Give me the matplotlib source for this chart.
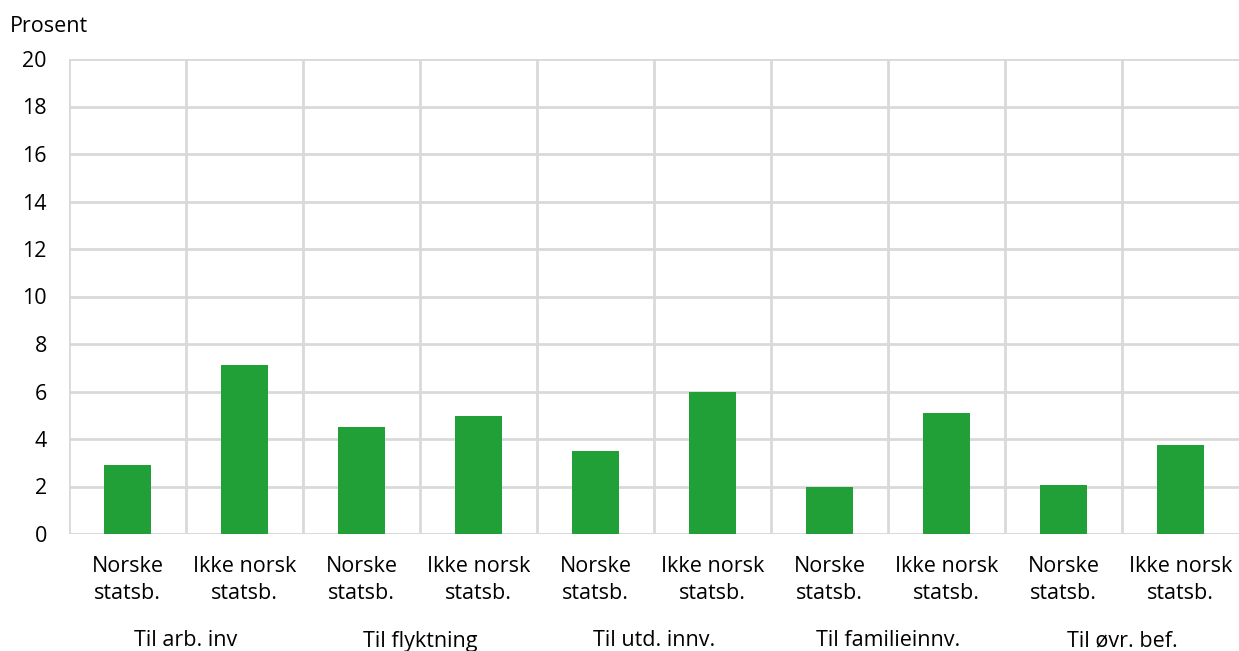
import numpy as np
import matplotlib.pyplot as plt
from matplotlib.transforms import blended_transform_factory

plt.rcParams['font.family'] = ['Open Sans', 'DejaVu Sans']

groups = ["Til arb. inv", "Til flyktning", "Til utd. innv.", "Til familieinnv.", "Til øvr. bef."]
sub_labels = ["Norske\nstatsb.", "Ikke norsk\nstatsb."]
values = [2.9, 7.1, 4.5, 4.95, 3.5, 6.0, 1.98, 5.1, 2.08, 3.75]

labels = [s for g in groups for s in sub_labels]
x = np.arange(len(values))
fs = 15.5

fig = plt.figure(figsize=(12.39, 6.51), dpi=100)
ax = fig.add_axes([69 / 1239, 1 - 534 / 651, 1170 / 1239, 475 / 651])

ax.bar(x, values, width=0.4, color="#21a038", zorder=3)

ax.set_xlim(-0.5, len(values) - 0.5)
ax.set_ylim(0, 20)
ax.set_yticks(range(0, 21, 2))
ax.set_xticks(x)
ax.set_xticklabels(labels, fontsize=fs, linespacing=1.35)
ax.tick_params(axis="y", labelsize=fs, length=0, pad=16)
ax.tick_params(axis="x", length=0, pad=16)

grid_col = "#d9d9d9"
ax.yaxis.grid(True, color=grid_col, linewidth=2, zorder=0)
for b in np.arange(-0.5, len(values) - 0.5, 1.0):
    ax.axvline(b, color=grid_col, linewidth=2, zorder=0)
for s in ax.spines.values():
    s.set_visible(False)
ax.axhline(0, color=grid_col, linewidth=2, zorder=2)

trans = blended_transform_factory(ax.transData, fig.transFigure)
for i, g in enumerate(groups):
    ax.text(2 * i + 0.5, 1 - 641 / 651, g, transform=trans, ha="center", va="center",
            fontsize=fs)

fig.text(10 / 1239, 1 - 26 / 651, "Prosent", ha="left", va="center", fontsize=fs)

fig.savefig("out.png", dpi=100)
